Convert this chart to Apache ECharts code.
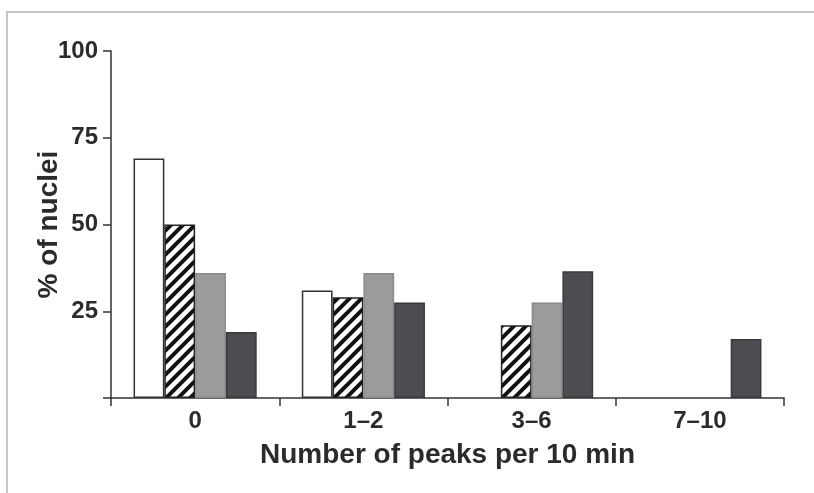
<!DOCTYPE html>
<html>
<head>
<meta charset="utf-8">
<script src="https://cdn.jsdelivr.net/npm/echarts@6/dist/echarts.min.js"></script>
<style>
  html, body { margin: 0; padding: 0; background: #fff; }
  #chart { width: 814px; height: 493px; }
</style>
</head>
<body>
<div id="chart"></div>
<script>
// peaks per 10 min, share of nuclei in each class
const categories = ['0', '1\u20132', '3\u20136', '7\u201310'];
const seriesWhite = [69, 31, null, null];
const seriesHatched = [50, 29, 21, null];
const seriesLight = [36, 36, 27.5, null];
const seriesDark = [19, 27.5, 36.5, 17];
const yTicks = [0, 25, 50, 75, 100];

const FONT = '"Liberation Sans", Arial, Helvetica, sans-serif';
const INK = '#2b2b2b';

// diagonal hatch tile
function hatch() {
  const c = document.createElement('canvas');
  c.width = 12; c.height = 12;
  const ctx = c.getContext('2d');
  ctx.fillStyle = '#fff';
  ctx.fillRect(0, 0, 12, 12);
  ctx.strokeStyle = '#111';
  ctx.lineWidth = 4;
  [-12, 0, 12].forEach(o => {
    ctx.beginPath();
    ctx.moveTo(o - 2, 14);
    ctx.lineTo(o + 14, -2);
    ctx.stroke();
  });
  return c;
}

const chart = echarts.init(document.getElementById('chart'), null, { renderer: 'canvas' });

function bar(name, data, fill, border) {
  return {
    name: name,
    type: 'bar',
    data: data,
    barGap: '0%',
    barCategoryGap: '26.8%',
    itemStyle: { color: fill, borderColor: border, borderWidth: 1.5 },
    emphasis: { disabled: true }
  };
}

chart.setOption({
  backgroundColor: '#fff',
  animation: false,
  graphic: [
    { type: 'line', shape: { x1: 6, y1: 12, x2: 814, y2: 12 }, style: { stroke: '#c6c6c6', lineWidth: 2 } },
    { type: 'line', shape: { x1: 7, y1: 12, x2: 7, y2: 493 }, style: { stroke: '#c6c6c6', lineWidth: 2 } }
  ],
  grid: { left: 111, right: 30, top: 51, bottom: 95 },
  xAxis: {
    type: 'category',
    data: categories,
    name: 'Number of peaks per 10 min',
    nameLocation: 'middle',
    nameGap: 43,
    nameTextStyle: { fontFamily: FONT, fontWeight: 'bold', fontSize: 28, color: INK },
    axisLine: { lineStyle: { color: '#333', width: 1.5 } },
    axisTick: { show: true, length: 8, lineStyle: { color: '#333', width: 1.5 } },
    axisLabel: { fontFamily: FONT, fontWeight: 'bold', fontSize: 24, color: INK, margin: 11 }
  },
  yAxis: {
    type: 'value',
    min: yTicks[0],
    max: yTicks[yTicks.length - 1],
    interval: 25,
    name: '% of nuclei',
    nameLocation: 'middle',
    nameGap: 48,
    nameMoveOverlap: false,
    nameTextStyle: { fontFamily: FONT, fontWeight: 'bold', fontSize: 28, color: INK },
    axisLine: { show: true, lineStyle: { color: '#333', width: 1.5 } },
    axisTick: { show: true, length: 8, lineStyle: { color: '#333', width: 1.5 } },
    splitLine: { show: false },
    axisLabel: {
      fontFamily: FONT, fontWeight: 'bold', fontSize: 24, color: INK, margin: 13,
      formatter: v => (v === 0 ? '' : String(v))
    }
  },
  series: [
    bar('white', seriesWhite, '#ffffff', '#333'),
    bar('hatched', seriesHatched, { image: hatch(), repeat: 'repeat' }, '#222'),
    bar('light', seriesLight, '#9b9b9b', '#8a8a8a'),
    bar('dark', seriesDark, '#4c4c51', '#3a3a3e')
  ]
});
</script>
</body>
</html>
